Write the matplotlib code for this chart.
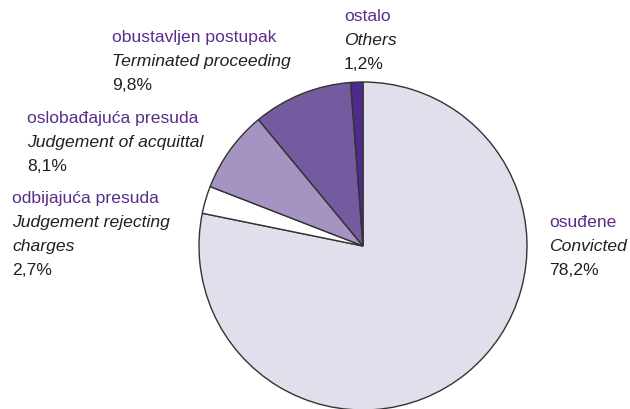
import matplotlib.pyplot as plt

# data (clockwise from top)
names_sr = ["osuđene", "odbijajuća presuda", "oslobađajuća presuda", "obustavljen postupak", "ostalo"]
names_en = ["Convicted", "Judgement rejecting\ncharges", "Judgement of acquittal", "Terminated proceeding", "Others"]
shares = [78.2, 2.7, 8.1, 9.8, 1.2]
colors = ["#e3deec", "#ffffff", "#a593c2", "#745a9e", "#4e2a8a"]

# label anchors: left x, baseline y of first line (pixels from top)
label_pos = [(549, 227), (12, 203), (27, 123), (112, 42), (344, 21)]

W, H = 630, 410
family = ["Liberation Sans", "DejaVu Sans"]
fsize = 12.6

fig = plt.figure(figsize=(W / 100, H / 100), dpi=100)
ax = fig.add_axes([0, 0, 1, 1])

ax.pie(shares, colors=colors, startangle=90, counterclock=False,
       center=(363, H - 247), radius=164,
       wedgeprops=dict(edgecolor="#333333", linewidth=1.0))
ax.set_xlim(0, W)
ax.set_ylim(0, H)
ax.set_aspect("equal")
ax.axis("off")

line = 24
for sr, en, val, (x, y) in zip(names_sr, names_en, shares, label_pos):
    rows = [(sr, "#5a2d8a", "normal")]
    rows += [(part, "#231f20", "italic") for part in en.split("\n")]
    rows.append((f"{val:.1f}%".replace(".", ","), "#231f20", "normal"))
    for i, (txt, col, style) in enumerate(rows):
        ax.text(x, H - (y + i * line), txt, color=col, fontstyle=style,
                fontsize=fsize, family=family, ha="left", va="baseline")

fig.savefig("out.png", dpi=100)
